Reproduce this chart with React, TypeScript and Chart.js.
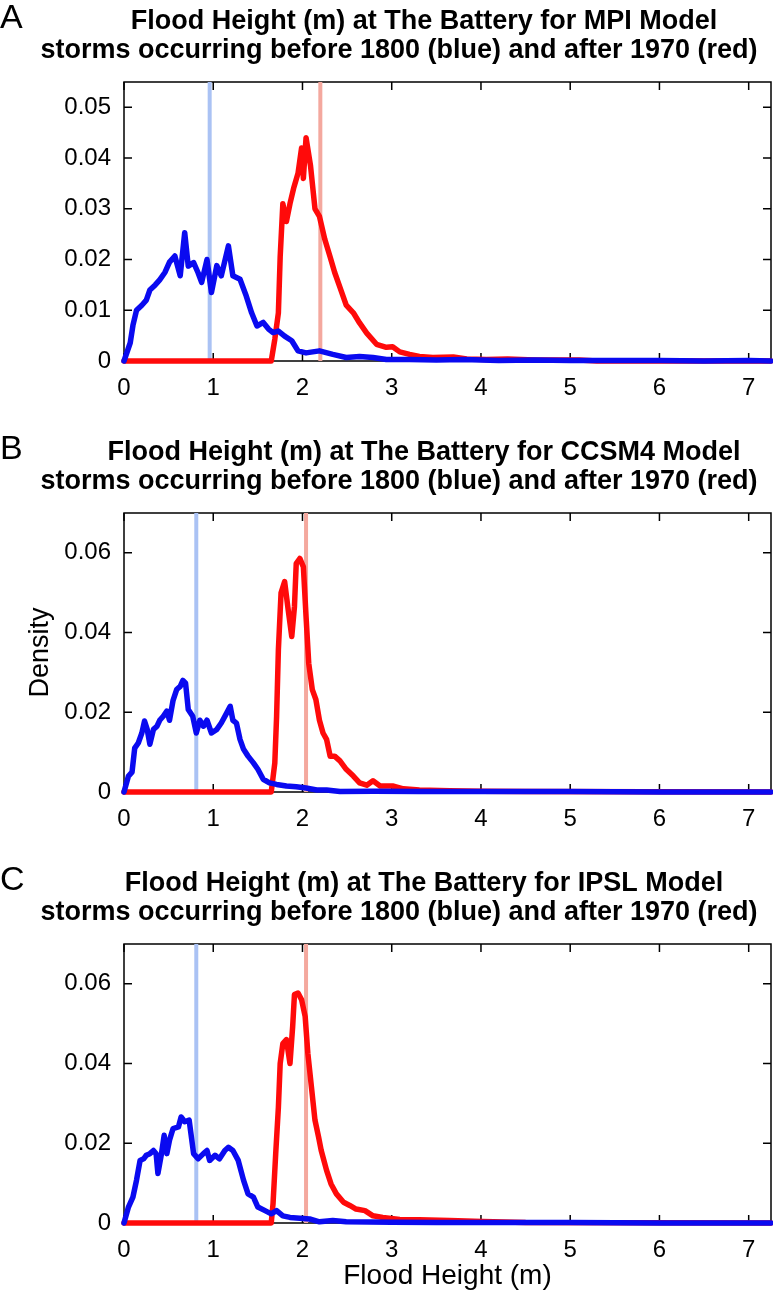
import React, { useEffect, useRef } from 'react';
import { Chart, registerables } from 'chart.js';

Chart.register(...registerables);

// ---------- Data ----------
// Panel A: MPI Model
const mpiBlueX = [0, 0.07, 0.1, 0.14, 0.2, 0.25, 0.29, 0.35, 0.4, 0.46, 0.51, 0.57, 0.63, 0.68, 0.72, 0.78, 0.83, 0.87, 0.93, 0.98, 1.04, 1.09, 1.17, 1.22, 1.3, 1.37, 1.43, 1.49, 1.56, 1.62, 1.67, 1.73, 1.8, 1.88, 1.95, 2.04, 2.19, 2.34, 2.49, 2.64, 2.79, 2.94, 3.2, 3.5, 3.8, 4.2, 4.6, 5.0, 5.5, 6.0, 6.5, 7.0, 7.25];
const mpiBlueY = [0, 0.0036, 0.007, 0.01, 0.011, 0.012, 0.014, 0.015, 0.016, 0.0175, 0.0195, 0.0207, 0.0168, 0.0253, 0.0187, 0.0194, 0.0174, 0.0155, 0.02, 0.0135, 0.0188, 0.0168, 0.0227, 0.0168, 0.0161, 0.0128, 0.0095, 0.0069, 0.0076, 0.0063, 0.0056, 0.0059, 0.0049, 0.004, 0.002, 0.0016, 0.002, 0.0013, 0.0007, 0.0009, 0.0007, 0.0003, 0.0003, 0.0002, 0.0003, 0.0001, 0.0002, 0.0001, 0.0001, 0.0001, 0, 0.0001, 0];
const mpiRedX = [0, 1.65, 1.69, 1.73, 1.75, 1.78, 1.82, 1.86, 1.9, 1.95, 1.99, 2.01, 2.04, 2.09, 2.14, 2.19, 2.25, 2.31, 2.36, 2.42, 2.49, 2.57, 2.64, 2.72, 2.83, 2.94, 3.01, 3.09, 3.2, 3.31, 3.46, 3.69, 3.84, 4.06, 4.3, 4.6, 5.1, 5.3, 7.25];
const mpiRedY = [0, 0, 0.0043, 0.0095, 0.0205, 0.031, 0.0275, 0.031, 0.034, 0.037, 0.042, 0.036, 0.044, 0.0385, 0.03, 0.0285, 0.024, 0.0205, 0.0175, 0.0145, 0.011, 0.0095, 0.0075, 0.0055, 0.0033, 0.0027, 0.0028, 0.0018, 0.0013, 0.0009, 0.0007, 0.0008, 0.0004, 0.0003, 0.0004, 0.0002, 0.0002, 0, 0];
const mpiMarkers = [0.96, 2.2];

// Panel B: CCSM4 Model
const ccsmBlueX = [0, 0.05, 0.09, 0.12, 0.16, 0.2, 0.23, 0.26, 0.29, 0.33, 0.37, 0.4, 0.44, 0.48, 0.51, 0.55, 0.59, 0.63, 0.66, 0.69, 0.72, 0.77, 0.81, 0.85, 0.89, 0.93, 0.98, 1.04, 1.09, 1.15, 1.19, 1.22, 1.26, 1.3, 1.34, 1.39, 1.45, 1.5, 1.56, 1.63, 1.71, 1.82, 1.93, 2.04, 2.16, 2.27, 2.42, 2.8, 3.3, 4.0, 5.0, 6.0, 7.25];
const ccsmBlueY = [0, 0.004, 0.005, 0.011, 0.0123, 0.0148, 0.0178, 0.0157, 0.012, 0.0157, 0.0165, 0.018, 0.019, 0.0203, 0.018, 0.023, 0.0257, 0.0265, 0.028, 0.0273, 0.0207, 0.019, 0.0148, 0.018, 0.0165, 0.018, 0.0148, 0.0157, 0.0173, 0.0198, 0.0215, 0.018, 0.0173, 0.0132, 0.0107, 0.009, 0.0073, 0.0057, 0.0032, 0.0023, 0.0019, 0.0015, 0.0013, 0.001, 0.0005, 0.0005, 0.0001, 0.0002, 0.0001, 0.0001, 0.0001, 0, 0];
const ccsmRedX = [0, 1.65, 1.69, 1.71, 1.73, 1.76, 1.8, 1.84, 1.88, 1.91, 1.93, 1.97, 2.01, 2.04, 2.07, 2.11, 2.15, 2.19, 2.23, 2.27, 2.31, 2.36, 2.42, 2.49, 2.57, 2.64, 2.72, 2.79, 2.87, 3.01, 3.13, 3.31, 3.65, 4.0, 4.5, 7.25];
const ccsmRedY = [0, 0, 0.0073, 0.019, 0.0357, 0.05, 0.0528, 0.0457, 0.039, 0.0465, 0.0573, 0.0586, 0.0565, 0.044, 0.0323, 0.0257, 0.0232, 0.018, 0.0148, 0.0132, 0.009, 0.009, 0.0078, 0.0057, 0.004, 0.0023, 0.0017, 0.0028, 0.0015, 0.0015, 0.0008, 0.0005, 0.0003, 0.0002, 0.0001, 0];
const ccsmMarkers = [0.81, 2.04];

// Panel C: IPSL Model
const ipslBlueX = [0, 0.05, 0.1, 0.14, 0.18, 0.22, 0.25, 0.29, 0.33, 0.36, 0.38, 0.42, 0.45, 0.48, 0.51, 0.55, 0.61, 0.64, 0.68, 0.73, 0.78, 0.83, 0.89, 0.93, 0.96, 1.02, 1.07, 1.13, 1.17, 1.22, 1.28, 1.34, 1.39, 1.45, 1.5, 1.58, 1.65, 1.71, 1.78, 1.86, 1.97, 2.08, 2.19, 2.34, 2.49, 3.0, 3.5, 4.0, 5.0, 6.0, 7.25];
const ipslBlueY = [0, 0.004, 0.0065, 0.0107, 0.0157, 0.0161, 0.017, 0.0174, 0.0182, 0.0174, 0.0124, 0.0174, 0.022, 0.0174, 0.0208, 0.0237, 0.0241, 0.0266, 0.0254, 0.0258, 0.0174, 0.0161, 0.0174, 0.0182, 0.0157, 0.017, 0.0161, 0.0182, 0.019, 0.0182, 0.0157, 0.0107, 0.0073, 0.0065, 0.004, 0.0031, 0.0023, 0.0031, 0.0018, 0.0014, 0.0012, 0.001, 0.0003, 0.0006, 0.0003, 0.0002, 0.0001, 0.0001, 0.0001, 0, 0];
const ipslRedX = [0, 1.65, 1.67, 1.7, 1.73, 1.75, 1.78, 1.82, 1.86, 1.89, 1.91, 1.95, 1.99, 2.03, 2.06, 2.1, 2.14, 2.18, 2.21, 2.27, 2.32, 2.38, 2.46, 2.53, 2.6, 2.7, 2.79, 2.9, 3.09, 3.31, 3.65, 4.02, 4.5, 7.25];
const ipslRedY = [0, 0, 0.0048, 0.0174, 0.029, 0.04, 0.045, 0.046, 0.04, 0.0493, 0.0573, 0.0577, 0.056, 0.0518, 0.0426, 0.0342, 0.0258, 0.0216, 0.0182, 0.0132, 0.0098, 0.0073, 0.0052, 0.0044, 0.0035, 0.0031, 0.0018, 0.0014, 0.0009, 0.0008, 0.0006, 0.0004, 0.0001, 0];
const ipslMarkers = [0.81, 2.04];

const panelLetters = ['A', 'B', 'C'];
const modelNames = ['MPI', 'CCSM4', 'IPSL'];
const titleSecondLine = 'storms occurring before 1800 (blue) and after 1970 (red)';
const yMaxes = [0.055, 0.07, 0.07];
const ySteps = [0.01, 0.02, 0.02];
const xMin = 0;
const xMax = 7.25;
const xStep = 1;
const yAxisTitle = 'Density';
const xAxisTitle = 'Flood Height (m)';

// ---------- Styles ----------
const FONT = '"Liberation Sans", Arial, Helvetica, sans-serif';
const BLUE = '#0a0af0';
const RED = '#ff0a0a';
const LIGHT_BLUE = '#aac2f4';
const SALMON = '#f4a89e';
const PLOT_TOP = 82;
const PLOT_BOTTOM = 361;
const PLOT_LEFT = 124;
const CANVAS_W = 773;
const canvasHeights = [431, 431, 437];

const toPts = (xs: number[], ys: number[]) => xs.map((x, i) => ({ x, y: ys[i] }));

const framePlugin = {
  id: 'matlabFrame',
  beforeDatasetsDraw(chart: any) {
    const { ctx, chartArea } = chart;
    const { left, right, top, bottom } = chartArea;
    const xs = chart.scales.x;
    const ys = chart.scales.y;
    const tl = 8;
    ctx.save();
    ctx.strokeStyle = '#000';
    ctx.lineWidth = 1.5;
    ctx.strokeRect(left, top, right - left, bottom - top);
    ctx.beginPath();
    xs.ticks.forEach((t: any) => {
      const px = xs.getPixelForValue(t.value);
      ctx.moveTo(px, bottom);
      ctx.lineTo(px, bottom - tl);
      ctx.moveTo(px, top);
      ctx.lineTo(px, top + tl);
    });
    ys.ticks.forEach((t: any) => {
      const py = ys.getPixelForValue(t.value);
      ctx.moveTo(left, py);
      ctx.lineTo(left + tl, py);
      ctx.moveTo(right, py);
      ctx.lineTo(right - tl, py);
    });
    ctx.stroke();
    ctx.restore();
  },
};

const textPlugin = {
  id: 'panelText',
  afterDraw(chart: any, _args: any, opts: any) {
    const ctx = chart.ctx;
    ctx.save();
    ctx.fillStyle = '#000';
    ctx.textBaseline = 'middle';
    ctx.textAlign = 'left';
    ctx.font = `34px ${FONT}`;
    ctx.fillText(opts.letter, 0, 19);
    ctx.font = `bold 27px ${FONT}`;
    ctx.textAlign = 'center';
    ctx.fillText(opts.line1, 424, 22);
    ctx.fillText(opts.line2, 399, 51);
    ctx.restore();
  },
};

type PanelProps = {
  idx: number;
  blueX: number[];
  blueY: number[];
  redX: number[];
  redY: number[];
  markers: number[];
};

function Panel({ idx, blueX, blueY, redX, redY, markers }: PanelProps) {
  const ref = useRef<HTMLCanvasElement>(null);
  const h = canvasHeights[idx];
  useEffect(() => {
    if (!ref.current) return;
    const yMax = yMaxes[idx];
    const chart = new Chart(ref.current, {
      type: 'line',
      data: {
        datasets: [
          {
            label: 'before 1800',
            data: toPts(blueX, blueY),
            borderColor: BLUE,
            borderWidth: 5.5,
            pointRadius: 0,
            borderJoinStyle: 'round',
            borderCapStyle: 'round',
            tension: 0,
            order: 0,
            clip: 8,
          },
          {
            label: 'after 1970',
            data: toPts(redX, redY),
            borderColor: RED,
            borderWidth: 5.5,
            pointRadius: 0,
            borderJoinStyle: 'round',
            borderCapStyle: 'round',
            tension: 0,
            order: 1,
            clip: 8,
          },
          {
            label: 'before 1800 marker',
            data: [{ x: markers[0], y: 0 }, { x: markers[0], y: yMax }],
            borderColor: LIGHT_BLUE,
            borderWidth: 4,
            pointRadius: 0,
            order: 2,
          },
          {
            label: 'after 1970 marker',
            data: [{ x: markers[1], y: 0 }, { x: markers[1], y: yMax }],
            borderColor: SALMON,
            borderWidth: 4,
            pointRadius: 0,
            order: 3,
          },
        ] as any,
      },
      options: {
        responsive: false,
        animation: false,
        events: [],
        layout: { padding: { top: PLOT_TOP, right: 2, left: 0, bottom: 0 } },
        plugins: {
          legend: { display: false },
          tooltip: { enabled: false },
          title: { display: false },
          panelText: {
            letter: panelLetters[idx],
            line1: `Flood Height (m) at The Battery for ${modelNames[idx]} Model`,
            line2: titleSecondLine,
          },
        } as any,
        scales: {
          x: {
            type: 'linear',
            min: xMin,
            max: xMax,
            grid: { display: false },
            border: { display: false },
            ticks: {
              stepSize: xStep,
              includeBounds: false,
              autoSkip: false,
              maxRotation: 0,
              color: '#000',
              padding: 5,
              font: { family: FONT, size: 24 },
              callback: (v: any) => String(Math.round(Number(v))),
            },
            title: {
              display: idx === 2,
              text: xAxisTitle,
              color: '#000',
              font: { family: FONT, size: 28 },
              padding: { top: 0, bottom: 6 },
            },
            afterFit: (s: any) => {
              s.height = h - PLOT_BOTTOM;
            },
          },
          y: {
            type: 'linear',
            min: 0,
            max: yMax,
            grid: { display: false },
            border: { display: false },
            ticks: {
              stepSize: ySteps[idx],
              includeBounds: false,
              color: '#000',
              padding: 5,
              font: { family: FONT, size: 24 },
              callback: (v: any) => (Math.abs(Number(v)) < 1e-9 ? '0' : Number(v).toFixed(2)),
            },
            title: {
              display: idx === 1,
              text: yAxisTitle,
              color: '#000',
              font: { family: FONT, size: 27 },
              padding: { top: 24, bottom: 0 },
            },
            afterFit: (s: any) => {
              s.width = PLOT_LEFT;
            },
          },
        } as any,
      },
      plugins: [framePlugin, textPlugin],
    });
    return () => chart.destroy();
  }, []);
  return (
    <canvas
      ref={ref}
      width={CANVAS_W}
      height={h}
      style={{ display: 'block', width: CANVAS_W, height: h }}
    />
  );
}

export default function App() {
  return (
    <div style={{ position: 'absolute', left: 0, top: 0, width: CANVAS_W, height: 1299, background: '#fff' }}>
      <Panel idx={0} blueX={mpiBlueX} blueY={mpiBlueY} redX={mpiRedX} redY={mpiRedY} markers={mpiMarkers} />
      <Panel idx={1} blueX={ccsmBlueX} blueY={ccsmBlueY} redX={ccsmRedX} redY={ccsmRedY} markers={ccsmMarkers} />
      <Panel idx={2} blueX={ipslBlueX} blueY={ipslBlueY} redX={ipslRedX} redY={ipslRedY} markers={ipslMarkers} />
    </div>
  );
}
